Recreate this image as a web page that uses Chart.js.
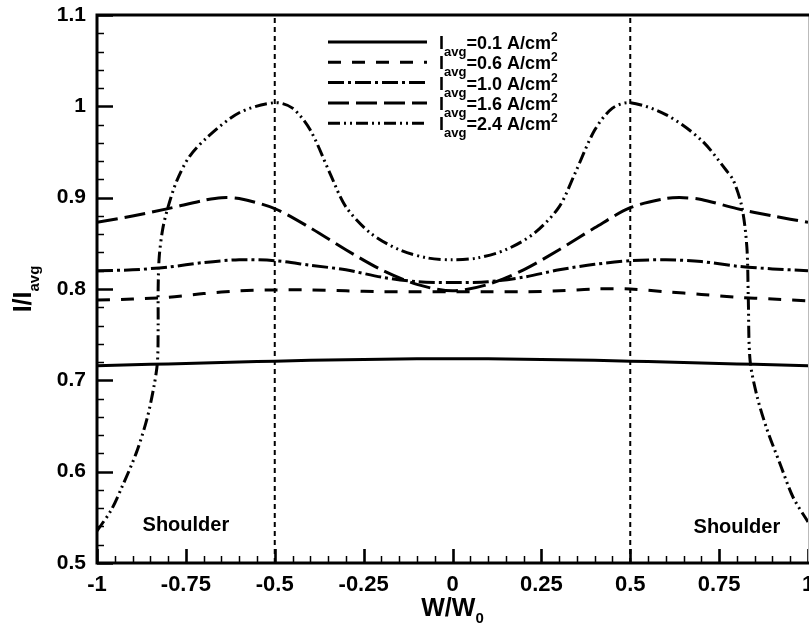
<!DOCTYPE html>
<html>
<head>
<meta charset="utf-8">
<script src="https://cdn.jsdelivr.net/npm/chart.js@4.4.1/dist/chart.umd.min.js"></script>
<style>
    html, body { margin: 0; padding: 0; background: #fff; }
    #wrap { width: 809px; height: 632px; }
</style>
</head>
<body>
<div id="wrap"><canvas id="current_profile" width="809" height="632"></canvas></div>
<script>

// W/W0 positions for the flat curves
const xGrid = [-1, -0.9, -0.8, -0.7, -0.6, -0.5, -0.4, -0.3, -0.2, -0.1, 0, 0.1, 0.2, 0.3, 0.4, 0.5, 0.6, 0.7, 0.8, 0.9, 1];

const i01 = [0.716, 0.717, 0.718, 0.719, 0.720, 0.721, 0.722, 0.7225, 0.723, 0.7235, 0.7235, 0.7235, 0.723, 0.7225, 0.722, 0.721, 0.720, 0.719, 0.718, 0.717, 0.716];
const i06 = [0.788, 0.789, 0.791, 0.795, 0.798, 0.799, 0.799, 0.798, 0.797, 0.797, 0.797, 0.797, 0.797, 0.798, 0.800, 0.800, 0.797, 0.794, 0.791, 0.789, 0.787];
const i10 = [0.820, 0.821, 0.824, 0.829, 0.832, 0.831, 0.826, 0.821, 0.813, 0.808, 0.807, 0.808, 0.813, 0.821, 0.827, 0.831, 0.832, 0.830, 0.825, 0.822, 0.820];

const i16X = [-1, -0.9, -0.8, -0.7, -0.65, -0.6, -0.5, -0.4, -0.3, -0.2, -0.1, 0, 0.1, 0.2, 0.3, 0.4, 0.5, 0.6, 0.65, 0.7, 0.8, 0.9, 1];
const i16 = [0.873, 0.880, 0.888, 0.897, 0.900, 0.899, 0.888, 0.867, 0.843, 0.821, 0.805, 0.798, 0.805, 0.821, 0.843, 0.867, 0.889, 0.899, 0.900, 0.898, 0.888, 0.880, 0.873];

const i24X = [-1, -0.96, -0.93, -0.89, -0.86, -0.84, -0.83, -0.828, -0.828, -0.825, -0.815, -0.8, -0.775, -0.74, -0.69, -0.6, -0.5, -0.45, -0.4, -0.345, -0.3, -0.23, -0.15, -0.07, 0,
              0.07, 0.15, 0.23, 0.3, 0.345, 0.4, 0.45, 0.5, 0.6, 0.7, 0.77, 0.79, 0.814, 0.828, 0.832, 0.837, 0.857, 0.885, 0.921, 0.958, 1];
const i24 = [0.535, 0.558, 0.583, 0.620, 0.657, 0.693, 0.720, 0.760, 0.800, 0.835, 0.866, 0.890, 0.919, 0.945, 0.966, 0.993, 1.004, 0.998, 0.974, 0.927, 0.890, 0.861, 0.843, 0.834, 0.832,
             0.834, 0.843, 0.861, 0.890, 0.927, 0.974, 0.998, 1.004, 0.991, 0.963, 0.930, 0.919, 0.890, 0.846, 0.791, 0.722, 0.682, 0.646, 0.609, 0.572, 0.545];

const seriesLabels = ['0.1', '0.6', '1.0', '1.6', '2.4'];

const xTicks = [-1, -0.75, -0.5, -0.25, 0, 0.25, 0.5, 0.75, 1];
const xTickLabels = ['-1', '-0.75', '-0.5', '-0.25', '0', '0.25', '0.5', '0.75', '1'];
const yTicks = [0.5, 0.6, 0.7, 0.8, 0.9, 1, 1.1];
const yTickLabels = ['0.5', '0.6', '0.7', '0.8', '0.9', '1', '1.1'];

// dotted guide lines and the two "Shoulder" notes
const guideX = [-0.5, 0.5];
const shoulderX = [-0.75, 0.8];
const shoulderY = [0.541, 0.539];

const FONT = '"Liberation Sans", Arial, Helvetica, sans-serif';

const pts = (xs, ys) => xs.map((x, i) => ({x: x, y: ys[i]}));

const curves = [
    {data: pts(xGrid, i01), dash: []},
    {data: pts(xGrid, i06), dash: [13, 11]},
    {data: pts(xGrid, i10), dash: [16, 4, 3, 4]},
    {data: pts(i16X, i16), dash: [21, 7]},
    {data: pts(i24X, i24), dash: [12, 4, 2, 4, 2, 4]},
];

let datasets = curves.map((c, i) => {
    return {
        label: seriesLabels[i],
        data: c.data,
        borderColor: '#000',
        borderWidth: 3,
        borderDash: c.dash,
        pointRadius: 0,
        tension: 0.3,
        fill: false,
    };
});

guideX.forEach((gx) => {
    datasets.push({
        label: 'guide',
        data: [{x: gx, y: yTicks[0]}, {x: gx, y: yTicks[yTicks.length - 1]}],
        borderColor: '#000',
        borderWidth: 2,
        borderDash: [5, 4],
        pointRadius: 0,
        tension: 0,
        fill: false,
    });
});

// draw runs of text with sub/superscripts
function richWidth(ctx, parts){
    let w = 0;
    parts.forEach((p) => {
        ctx.font = 'bold ' + p[1] + 'px ' + FONT;
        w += ctx.measureText(p[0]).width;
    });
    return w;
}
function drawRich(ctx, x, y, parts){
    let cx = x;
    parts.forEach((p) => {
        ctx.font = 'bold ' + p[1] + 'px ' + FONT;
        ctx.fillText(p[0], cx, y + p[2]);
        cx += ctx.measureText(p[0]).width;
    });
}

const decorations = {
    id: 'decorations',
    afterDatasetsDraw(chart){
        const ctx = chart.ctx;
        const a = chart.chartArea;
        const xs = chart.scales.x;
        const ys = chart.scales.y;

        ctx.save();
        ctx.fillStyle = '#000';
        ctx.strokeStyle = '#000';
        ctx.setLineDash([]);

        // inward ticks, minor first
        ctx.lineWidth = 1.5;
        for (let k = 0; k <= 40; k++) {
            const px = Math.round(xs.getPixelForValue(-1 + k * 0.05)) + 0.5;
            const len = (k % 5 === 0) ? 14 : 7;
            ctx.beginPath(); ctx.moveTo(px, a.bottom); ctx.lineTo(px, a.bottom - len); ctx.stroke();
        }
        for (let k = 0; k <= 30; k++) {
            const py = Math.round(ys.getPixelForValue(0.5 + k * 0.02)) + 0.5;
            const len = (k % 5 === 0) ? 16 : 7;
            ctx.lineWidth = (k % 5 === 0) ? 2.5 : 1.5;
            ctx.beginPath(); ctx.moveTo(a.left, py); ctx.lineTo(a.left + len, py); ctx.stroke();
        }
        ctx.lineWidth = 2.5;
        xTicks.forEach((v) => {
            const px = Math.round(xs.getPixelForValue(v)) + 0.5;
            ctx.beginPath(); ctx.moveTo(px, a.bottom); ctx.lineTo(px, a.bottom - 14); ctx.stroke();
        });

        // frame
        ctx.strokeStyle = '#bbb';
        ctx.lineWidth = 1;
        ctx.beginPath(); ctx.moveTo(a.right + 0.5, a.top); ctx.lineTo(a.right + 0.5, a.bottom); ctx.stroke();
        ctx.strokeStyle = '#000';
        ctx.lineWidth = 3;
        ctx.beginPath();
        ctx.moveTo(a.right + 1, a.top);
        ctx.lineTo(a.left, a.top);
        ctx.lineTo(a.left, a.bottom);
        ctx.lineTo(a.right + 1, a.bottom);
        ctx.stroke();

        // Shoulder notes
        ctx.font = 'bold 20px ' + FONT;
        ctx.textAlign = 'center';
        ctx.textBaseline = 'middle';
        shoulderX.forEach((sx, i) => {
            ctx.fillText('Shoulder', xs.getPixelForValue(sx), ys.getPixelForValue(shoulderY[i]));
        });

        // legend
        ctx.textAlign = 'left';
        ctx.textBaseline = 'alphabetic';
        curves.forEach((c, i) => {
            const ly = 42 + i * 20.3;
            ctx.lineWidth = 3;
            ctx.setLineDash(c.dash);
            ctx.beginPath(); ctx.moveTo(328, ly); ctx.lineTo(427, ly); ctx.stroke();
            ctx.setLineDash([]);
            drawRich(ctx, 439, ly + 7, [
                ['I', 18, 0], ['avg', 13, 7], ['=' + seriesLabels[i] + ' A/cm', 18, 0], ['2', 12, -8]
            ]);
        });

        // axis titles
        const xt = [['W/W', 25, 0], ['0', 15, 7]];
        const xw = richWidth(ctx, xt);
        drawRich(ctx, xs.getPixelForValue(0) - xw / 2, 616, xt);

        const yt = [['I/I', 25, 0], ['avg', 15, 8]];
        const yw = richWidth(ctx, yt);
        ctx.translate(31, ys.getPixelForValue(0.8) + yw / 2);
        ctx.rotate(-Math.PI / 2);
        drawRich(ctx, 0, 0, yt);

        ctx.restore();
    }
};

const config = {
    type: 'line',
    data: {
        datasets: datasets,
    },
    options: {
        responsive: false,
        animation: false,
        devicePixelRatio: 1,
        layout: {
            padding: {top: 15, right: 1, left: 0, bottom: 0}
        },
        plugins: {
            legend: {display: false},
            tooltip: {enabled: false},
        },
        scales: {
            x: {
                type: 'linear',
                min: -1,
                max: 1,
                grid: {display: false, drawTicks: false},
                border: {display: false},
                afterBuildTicks: (scale) => { scale.ticks = xTicks.map((v) => ({value: v})); },
                afterFit: (scale) => { scale.height = 69; scale.paddingLeft = 0; scale.paddingRight = 0; },
                ticks: {
                    color: '#000',
                    padding: 9,
                    maxRotation: 0,
                    autoSkip: false,
                    font: {family: FONT, size: 22, weight: 'bold'},
                    callback: (v, i) => xTickLabels[i],
                }
            },
            y: {
                type: 'linear',
                min: 0.5,
                max: 1.1,
                grid: {display: false, drawTicks: false},
                border: {display: false},
                afterBuildTicks: (scale) => { scale.ticks = yTicks.map((v) => ({value: v})); },
                afterFit: (scale) => { scale.width = 97; scale.paddingTop = 0; scale.paddingBottom = 0; },
                ticks: {
                    color: '#000',
                    padding: 11,
                    autoSkip: false,
                    font: {family: FONT, size: 21, weight: 'bold'},
                    callback: (v, i) => yTickLabels[i],
                }
            }
        }
    },
    plugins: [decorations]
};

let ctx = document.getElementById('current_profile').getContext('2d');
let chart = new Chart(ctx, config);

</script>
</body>
</html>
